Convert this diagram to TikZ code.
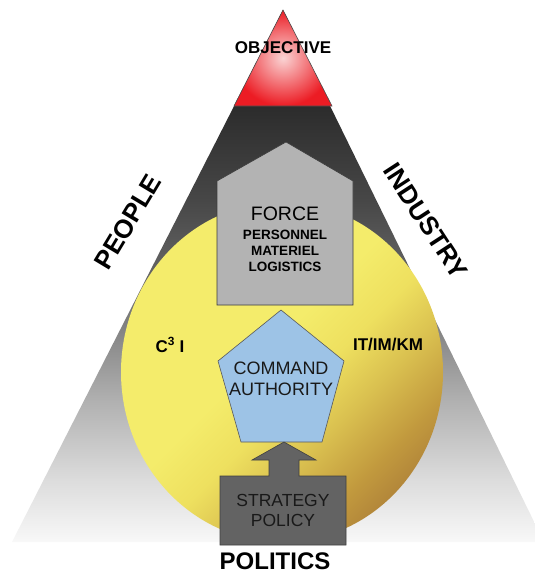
\documentclass[tikz,border=0pt]{standalone}
\usepackage{fontspec}
\setmainfont{Liberation Sans}
\usetikzlibrary{positioning}

% colours
\definecolor{g0}{HTML}{F8F8F8}
\definecolor{g1}{HTML}{DCDCDC}
\definecolor{g2}{HTML}{B0B0B0}
\definecolor{g3}{HTML}{6B6B6B}
\definecolor{g4}{HTML}{474747}
\definecolor{g5}{HTML}{2C2C2C}
\definecolor{g6}{HTML}{2A2A2A}
\definecolor{y0}{HTML}{B3873A}
\definecolor{y1}{HTML}{C29A3E}
\definecolor{y2}{HTML}{D9BF4F}
\definecolor{y3}{HTML}{EEE05F}
\definecolor{y4}{HTML}{F4EC6B}
\definecolor{redmain}{HTML}{EC1C24}
\definecolor{redlight}{HTML}{FAD4D4}
\definecolor{forcegrey}{HTML}{B3B3B3}
\definecolor{cmdblue}{HTML}{9DC3E6}
\definecolor{stratgrey}{HTML}{636363}
\definecolor{edgegrey}{HTML}{3C3C3C}

% background wedge: dark at the top, fading to white at the base
\pgfdeclareverticalshading{greyfall}{100bp}{color(0bp)=(g0); color(25bp)=(g0);
  color(30.85bp)=(g1); color(38.35bp)=(g2); color(48.7bp)=(g3);
  color(57.15bp)=(g4); color(65.9bp)=(g5); color(75bp)=(g6); color(100bp)=(g6)}
% golden disc: light yellow, turning brown towards the lower right
\pgfdeclareverticalshading{goldball}{100bp}{color(0bp)=(y0); color(25bp)=(y0);
  color(30bp)=(y1); color(38bp)=(y2); color(46bp)=(y3); color(54bp)=(y4);
  color(100bp)=(y4)}

\tikzset{
  lbl/.style={inner sep=0pt, text=black},
  sidebig/.style={lbl, font=\fontsize{26}{28}\selectfont\bfseries},
  forcesub/.style={lbl, font=\fontsize{13.5}{15}\selectfont\bfseries},
  plainlbl/.style={lbl, font=\fontsize{18}{20}\selectfont},
  boldlbl/.style={lbl, font=\fontsize{17}{19}\selectfont\bfseries},
  shapeedge/.style={draw=edgegrey, line width=0.6pt, line join=miter}
}

\begin{document}
\begin{tikzpicture}[x=1pt,y=-1pt]
\useasboundingbox (0,0) rectangle (535,573);

% big wedge
\shade[shading=greyfall] (283,10) -- (12,542) -- (544,542) -- cycle;

% objective tip
\shade[inner color=redlight, outer color=redmain, shapeedge, draw=black!70]
  (283,10) -- (234,106) -- (332,106) -- cycle;

% the disc
\shade[shading=goldball, shading angle=45] (282,372) ellipse [x radius=161, y radius=170];

% force house
\filldraw[fill=forcegrey, shapeedge]
  (217,305) -- (217,181) -- (286,142) -- (353,181) -- (353,305) -- cycle;

% command pentagon
\filldraw[fill=cmdblue, shapeedge, draw=black!65]
  (281,310) -- (344,361) -- (322,442) -- (241,442) -- (218,361) -- cycle;

% strategy box with arrow
\filldraw[fill=stratgrey, shapeedge, draw=black!75]
  (220,545) -- (220,476) -- (269,476) -- (269,460) -- (252,460) -- (284,442)
  -- (316,460) -- (299,460) -- (299,476) -- (346,476) -- (346,545) -- cycle;

% labels
\node[lbl, font=\fontsize{17}{19}\selectfont\bfseries] (objective) at (283,48) {OBJECTIVE};

\node[lbl, font=\fontsize{19.5}{21}\selectfont] (force) at (285,214) {FORCE};
\node[forcesub] (personnel) at (285,235) {PERSONNEL};
\node[forcesub] (materiel) at (285,251) {MATERIEL};
\node[forcesub] (logistics) at (285,267) {LOGISTICS};

\node[sidebig, rotate=59] (people) at (128,222) {PEOPLE};
\node[sidebig, rotate=-57] (industry) at (426,221) {INDUSTRY};

\node[boldlbl] (c3i) at (170,345) {C\textsuperscript{3} I};
\node[boldlbl] (itimkm) at (388,345) {IT/IM/KM};

\node[plainlbl, text=black!90] (command) at (281,368) {COMMAND};
\node[plainlbl, text=black!90] (authority) at (281,389) {AUTHORITY};

\node[lbl, font=\fontsize{17.5}{19}\selectfont, text=black!90] (strategy) at (283,500) {STRATEGY};
\node[lbl, font=\fontsize{17.5}{19}\selectfont, text=black!90] (policy) at (283,520) {POLICY};

\node[lbl, font=\fontsize{24}{26}\selectfont\bfseries] (politics) at (275,561.5) {POLITICS};
\end{tikzpicture}
\end{document}
